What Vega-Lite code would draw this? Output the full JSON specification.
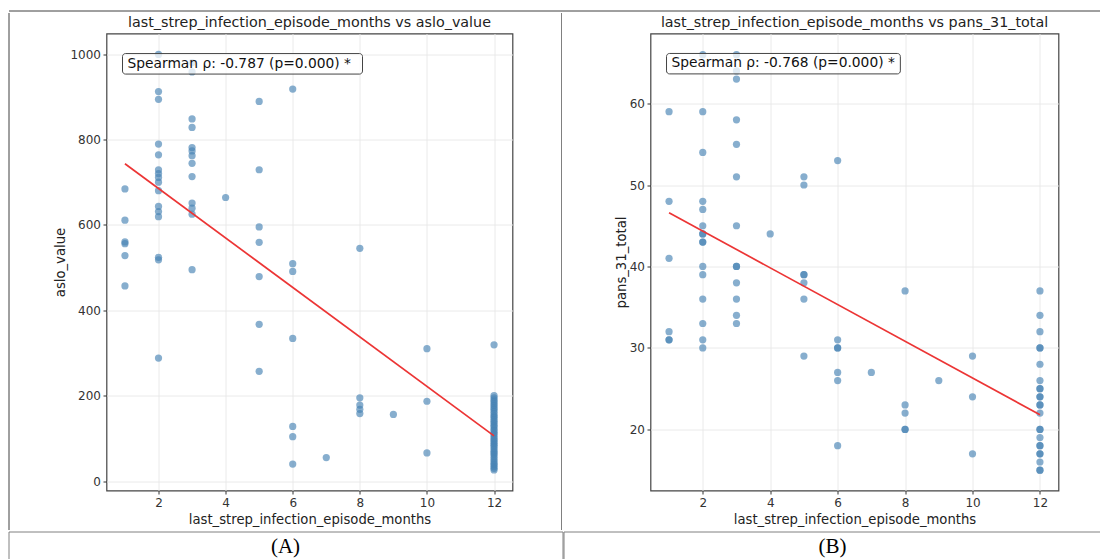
{
  "$schema": "https://vega.github.io/schema/vega-lite/v6.json",
  "background": "white",
  "padding": {"left": 7.5, "top": 9.5, "right": 0, "bottom": 0},
  "config": {
    "font": "DejaVu Sans",
    "view": {"stroke": null},
    "axis": {
      "labelFont": "DejaVu Sans", "labelFontSize": 12, "labelColor": "#333",
      "titleFont": "DejaVu Sans", "titleFontSize": 13.2, "titleFontWeight": "normal", "titleColor": "#222",
      "tickColor": "#333", "tickSize": 3.5, "tickWidth": 1, "labelPadding": 2.5,
      "domain": false, "gridColor": "#e8e8e8", "gridWidth": 0.9
    },
    "title": {"font": "DejaVu Sans", "fontSize": 14.3, "fontWeight": "normal", "color": "#222", "offset": 3}
  },
  "datasets": {
    "aslo": [
      {"months": 1, "aslo_value": 684}, {"months": 1, "aslo_value": 611}, {"months": 1, "aslo_value": 560}, {"months": 1, "aslo_value": 556}, {"months": 1, "aslo_value": 528}, {"months": 1, "aslo_value": 457},
      {"months": 2, "aslo_value": 999}, {"months": 2, "aslo_value": 912}, {"months": 2, "aslo_value": 894}, {"months": 2, "aslo_value": 789}, {"months": 2, "aslo_value": 764}, {"months": 2, "aslo_value": 729}, {"months": 2, "aslo_value": 720}, {"months": 2, "aslo_value": 711}, {"months": 2, "aslo_value": 700}, {"months": 2, "aslo_value": 680}, {"months": 2, "aslo_value": 643}, {"months": 2, "aslo_value": 631}, {"months": 2, "aslo_value": 619}, {"months": 2, "aslo_value": 524}, {"months": 2, "aslo_value": 518}, {"months": 2, "aslo_value": 288},
      {"months": 3, "aslo_value": 980}, {"months": 3, "aslo_value": 958}, {"months": 3, "aslo_value": 848}, {"months": 3, "aslo_value": 828}, {"months": 3, "aslo_value": 781}, {"months": 3, "aslo_value": 773}, {"months": 3, "aslo_value": 762}, {"months": 3, "aslo_value": 744}, {"months": 3, "aslo_value": 713}, {"months": 3, "aslo_value": 651}, {"months": 3, "aslo_value": 639}, {"months": 3, "aslo_value": 625}, {"months": 3, "aslo_value": 495},
      {"months": 4, "aslo_value": 664},
      {"months": 5, "aslo_value": 889}, {"months": 5, "aslo_value": 729}, {"months": 5, "aslo_value": 595}, {"months": 5, "aslo_value": 559}, {"months": 5, "aslo_value": 479}, {"months": 5, "aslo_value": 367}, {"months": 5, "aslo_value": 257},
      {"months": 6, "aslo_value": 918}, {"months": 6, "aslo_value": 509}, {"months": 6, "aslo_value": 491}, {"months": 6, "aslo_value": 334}, {"months": 6, "aslo_value": 128}, {"months": 6, "aslo_value": 104}, {"months": 6, "aslo_value": 40},
      {"months": 7, "aslo_value": 55},
      {"months": 8, "aslo_value": 545}, {"months": 8, "aslo_value": 195}, {"months": 8, "aslo_value": 178}, {"months": 8, "aslo_value": 168}, {"months": 8, "aslo_value": 158},
      {"months": 9, "aslo_value": 156},
      {"months": 10, "aslo_value": 310}, {"months": 10, "aslo_value": 187}, {"months": 10, "aslo_value": 66},
      {"months": 12, "aslo_value": 319}, {"months": 12, "aslo_value": 200}, {"months": 12, "aslo_value": 195}, {"months": 12, "aslo_value": 190}, {"months": 12, "aslo_value": 186}, {"months": 12, "aslo_value": 181}, {"months": 12, "aslo_value": 177}, {"months": 12, "aslo_value": 172}, {"months": 12, "aslo_value": 168}, {"months": 12, "aslo_value": 163}, {"months": 12, "aslo_value": 158}, {"months": 12, "aslo_value": 153}, {"months": 12, "aslo_value": 150}, {"months": 12, "aslo_value": 145}, {"months": 12, "aslo_value": 140}, {"months": 12, "aslo_value": 136}, {"months": 12, "aslo_value": 131}, {"months": 12, "aslo_value": 127}, {"months": 12, "aslo_value": 122}, {"months": 12, "aslo_value": 118}, {"months": 12, "aslo_value": 113}, {"months": 12, "aslo_value": 110}, {"months": 12, "aslo_value": 105}, {"months": 12, "aslo_value": 100}, {"months": 12, "aslo_value": 96}, {"months": 12, "aslo_value": 92}, {"months": 12, "aslo_value": 88}, {"months": 12, "aslo_value": 84}, {"months": 12, "aslo_value": 80}, {"months": 12, "aslo_value": 75}, {"months": 12, "aslo_value": 70}, {"months": 12, "aslo_value": 66}, {"months": 12, "aslo_value": 62}, {"months": 12, "aslo_value": 57}, {"months": 12, "aslo_value": 52}, {"months": 12, "aslo_value": 47}, {"months": 12, "aslo_value": 42}, {"months": 12, "aslo_value": 38}, {"months": 12, "aslo_value": 34}, {"months": 12, "aslo_value": 30}, {"months": 12, "aslo_value": 26}
    ],
    "aslo_fit": [{"months": 1, "aslo_value": 743}, {"months": 12, "aslo_value": 106}],
    "pans": [
      {"months": 1, "pans_31_total": 59}, {"months": 1, "pans_31_total": 48}, {"months": 1, "pans_31_total": 41}, {"months": 1, "pans_31_total": 32}, {"months": 1, "pans_31_total": 31}, {"months": 1, "pans_31_total": 31},
      {"months": 2, "pans_31_total": 66}, {"months": 2, "pans_31_total": 59}, {"months": 2, "pans_31_total": 54}, {"months": 2, "pans_31_total": 48}, {"months": 2, "pans_31_total": 47}, {"months": 2, "pans_31_total": 45}, {"months": 2, "pans_31_total": 44}, {"months": 2, "pans_31_total": 44}, {"months": 2, "pans_31_total": 43}, {"months": 2, "pans_31_total": 43}, {"months": 2, "pans_31_total": 40}, {"months": 2, "pans_31_total": 39}, {"months": 2, "pans_31_total": 36}, {"months": 2, "pans_31_total": 33}, {"months": 2, "pans_31_total": 31}, {"months": 2, "pans_31_total": 30},
      {"months": 3, "pans_31_total": 66}, {"months": 3, "pans_31_total": 64}, {"months": 3, "pans_31_total": 63}, {"months": 3, "pans_31_total": 58}, {"months": 3, "pans_31_total": 55}, {"months": 3, "pans_31_total": 51}, {"months": 3, "pans_31_total": 45}, {"months": 3, "pans_31_total": 40}, {"months": 3, "pans_31_total": 40}, {"months": 3, "pans_31_total": 38}, {"months": 3, "pans_31_total": 36}, {"months": 3, "pans_31_total": 34}, {"months": 3, "pans_31_total": 33},
      {"months": 4, "pans_31_total": 44},
      {"months": 5, "pans_31_total": 51}, {"months": 5, "pans_31_total": 50}, {"months": 5, "pans_31_total": 39}, {"months": 5, "pans_31_total": 39}, {"months": 5, "pans_31_total": 38}, {"months": 5, "pans_31_total": 36}, {"months": 5, "pans_31_total": 29},
      {"months": 6, "pans_31_total": 53}, {"months": 6, "pans_31_total": 31}, {"months": 6, "pans_31_total": 30}, {"months": 6, "pans_31_total": 30}, {"months": 6, "pans_31_total": 27}, {"months": 6, "pans_31_total": 26}, {"months": 6, "pans_31_total": 18},
      {"months": 7, "pans_31_total": 27},
      {"months": 8, "pans_31_total": 37}, {"months": 8, "pans_31_total": 23}, {"months": 8, "pans_31_total": 22}, {"months": 8, "pans_31_total": 20}, {"months": 8, "pans_31_total": 20},
      {"months": 9, "pans_31_total": 26},
      {"months": 10, "pans_31_total": 29}, {"months": 10, "pans_31_total": 24}, {"months": 10, "pans_31_total": 17},
      {"months": 12, "pans_31_total": 37}, {"months": 12, "pans_31_total": 34}, {"months": 12, "pans_31_total": 32}, {"months": 12, "pans_31_total": 30}, {"months": 12, "pans_31_total": 30}, {"months": 12, "pans_31_total": 28}, {"months": 12, "pans_31_total": 26}, {"months": 12, "pans_31_total": 25}, {"months": 12, "pans_31_total": 25}, {"months": 12, "pans_31_total": 24}, {"months": 12, "pans_31_total": 24}, {"months": 12, "pans_31_total": 23}, {"months": 12, "pans_31_total": 23}, {"months": 12, "pans_31_total": 22}, {"months": 12, "pans_31_total": 20}, {"months": 12, "pans_31_total": 20}, {"months": 12, "pans_31_total": 19}, {"months": 12, "pans_31_total": 18}, {"months": 12, "pans_31_total": 18}, {"months": 12, "pans_31_total": 17}, {"months": 12, "pans_31_total": 17}, {"months": 12, "pans_31_total": 16}, {"months": 12, "pans_31_total": 15}, {"months": 12, "pans_31_total": 15}
    ],
    "pans_fit": [{"months": 1, "pans_31_total": 46.6}, {"months": 12, "pans_31_total": 21.8}],
    "label_a": [{"label": "Spearman ρ: -0.787 (p=0.000) *"}],
    "label_b": [{"label": "Spearman ρ: -0.768 (p=0.000) *"}],
    "cap_a": [{"label": "(A)"}],
    "cap_b": [{"label": "(B)"}]
  },
  "vconcat": [
    {"width": 1092, "height": 0.001, "view": {"stroke": "#808080", "strokeWidth": 1}, "data": {"values": []}, "mark": "point"},
    {
      "vconcat": [
        {
          "hconcat": [
            {"width": 0.001, "height": 517, "view": {"stroke": "#808080", "strokeWidth": 1}, "data": {"values": []}, "mark": "point"},
            {
              "hconcat": [
                {
                  "vconcat": [
                    {"width": 1, "height": 0.001, "data": {"values": []}, "mark": "point"},
                    {
                      "width": 406, "height": 457,
                      "title": "last_strep_infection_episode_months vs aslo_value",
                      "view": {"stroke": "#444", "strokeWidth": 1.2},
                      "layer": [
                        {
                          "data": {"name": "aslo"},
                          "mark": {"type": "circle", "size": 52, "color": "#4682b4", "opacity": 0.65},
                          "encoding": {
                            "x": {"field": "months", "type": "quantitative", "scale": {"domain": [0.45, 12.55], "nice": false, "zero": false}, "axis": {"title": "last_strep_infection_episode_months", "values": [2, 4, 6, 8, 10, 12], "labelPadding": 3, "titlePadding": 5}},
                            "y": {"field": "aslo_value", "type": "quantitative", "scale": {"domain": [-22, 1048], "nice": false, "zero": false}, "axis": {"title": "aslo_value", "values": [0, 200, 400, 600, 800, 1000], "format": "d", "titlePadding": 2}}
                          }
                        },
                        {
                          "data": {"name": "aslo_fit"},
                          "mark": {"type": "line", "color": "#ec3535", "strokeWidth": 1.7},
                          "encoding": {
                            "x": {"field": "months", "type": "quantitative"},
                            "y": {"field": "aslo_value", "type": "quantitative"}
                          }
                        },
                        {
                          "data": {"name": "label_a"},
                          "mark": {"type": "rect", "fill": "white", "fillOpacity": 0.75, "stroke": "#444", "strokeWidth": 1, "cornerRadius": 3},
                          "encoding": {"x": {"datum": 0.927}, "x2": {"datum": 8.08}, "y": {"datum": 1001}, "y2": {"datum": 953}}
                        },
                        {
                          "data": {"name": "label_a"},
                          "mark": {"type": "text", "align": "left", "baseline": "middle", "fontSize": 13.8, "font": "DejaVu Sans", "color": "#111"},
                          "encoding": {"x": {"datum": 1.076}, "y": {"datum": 977}, "text": {"field": "label"}}
                        }
                      ]
                    }
                  ],
                  "spacing": 2
                },
                {
                  "hconcat": [
                    {"width": 0.001, "height": 517, "view": {"stroke": "#808080", "strokeWidth": 1}, "data": {"values": []}, "mark": "point"},
                    {
                      "vconcat": [
                        {"width": 1, "height": 0.001, "data": {"values": []}, "mark": "point"},
                        {
                          "width": 408, "height": 457,
                          "title": "last_strep_infection_episode_months vs pans_31_total",
                          "view": {"stroke": "#444", "strokeWidth": 1.2},
                          "layer": [
                            {
                              "data": {"name": "pans"},
                              "mark": {"type": "circle", "size": 52, "color": "#4682b4", "opacity": 0.65},
                              "encoding": {
                                "x": {"field": "months", "type": "quantitative", "scale": {"domain": [0.45, 12.55], "nice": false, "zero": false}, "axis": {"title": "last_strep_infection_episode_months", "values": [2, 4, 6, 8, 10, 12], "labelPadding": 3, "titlePadding": 5}},
                                "y": {"field": "pans_31_total", "type": "quantitative", "scale": {"domain": [12.5, 68.6], "nice": false, "zero": false}, "axis": {"title": "pans_31_total", "values": [20, 30, 40, 50, 60], "format": "d", "titlePadding": 1}}
                              }
                            },
                            {
                              "data": {"name": "pans_fit"},
                              "mark": {"type": "line", "color": "#ec3535", "strokeWidth": 1.7},
                              "encoding": {
                                "x": {"field": "months", "type": "quantitative"},
                                "y": {"field": "pans_31_total", "type": "quantitative"}
                              }
                            },
                            {
                              "data": {"name": "label_b"},
                              "mark": {"type": "rect", "fill": "white", "fillOpacity": 0.75, "stroke": "#444", "strokeWidth": 1, "cornerRadius": 3},
                              "encoding": {"x": {"datum": 0.925}, "x2": {"datum": 7.86}, "y": {"datum": 66.15}, "y2": {"datum": 63.64}}
                            },
                            {
                              "data": {"name": "label_b"},
                              "mark": {"type": "text", "align": "left", "baseline": "middle", "fontSize": 13.8, "font": "DejaVu Sans", "color": "#111"},
                              "encoding": {"x": {"datum": 1.07}, "y": {"datum": 64.93}, "text": {"field": "label"}}
                            }
                          ]
                        }
                      ],
                      "spacing": 2
                    }
                  ],
                  "spacing": 51.5,
                  "align": "none"
                }
              ],
              "spacing": 46.5,
              "align": "none"
            }
          ],
          "spacing": 43,
          "align": "none"
        },
        {
          "hconcat": [
            {"width": 554, "height": 31, "view": {"stroke": "#808080", "strokeWidth": 1}, "data": {"name": "cap_a"}, "mark": {"type": "text", "font": "Liberation Serif", "fontSize": 21, "color": "#000", "baseline": "middle", "align": "center"}, "encoding": {"text": {"field": "label"}}},
            {"width": 538, "height": 31, "view": {"stroke": "#808080", "strokeWidth": 1}, "data": {"name": "cap_b"}, "mark": {"type": "text", "font": "Liberation Serif", "fontSize": 21, "color": "#000", "baseline": "middle", "align": "center"}, "encoding": {"text": {"field": "label"}}}
          ],
          "spacing": -1,
          "align": "none"
        }
      ],
      "spacing": 0
    }
  ],
  "spacing": 0
}
